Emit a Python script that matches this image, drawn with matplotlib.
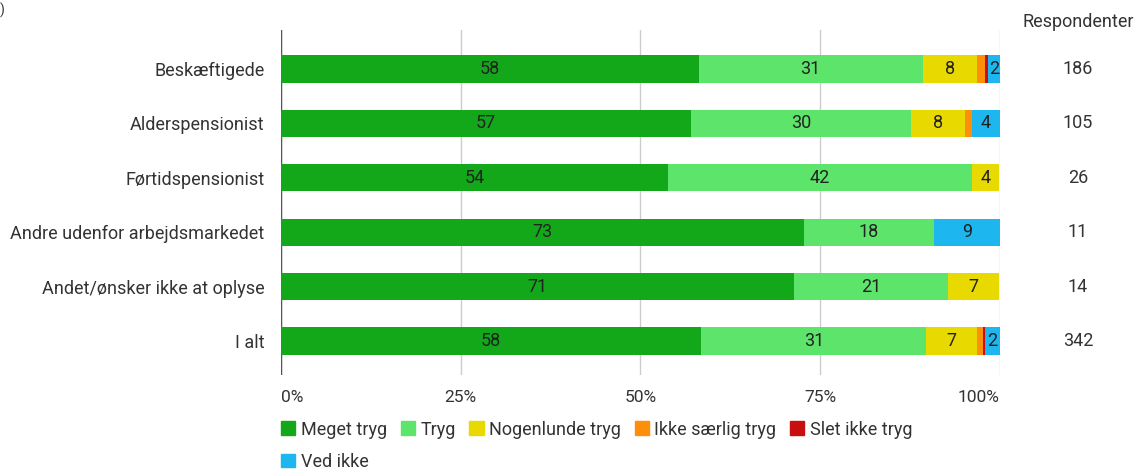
import matplotlib
matplotlib.use("Agg")
import matplotlib.pyplot as plt
from matplotlib.patches import Patch
import numpy as np

plt.rcParams['font.family'] = ['Roboto', 'DejaVu Sans']

categories = ["Beskæftigede", "Alderspensionist", "Førtidspensionist",
              "Andre udenfor arbejdsmarkedet", "Andet/ønsker ikke at oplyse", "I alt"]
respondents = [186, 105, 26, 11, 14, 342]

series_names = ["Meget tryg", "Tryg", "Nogenlunde tryg", "Ikke særlig tryg",
                "Slet ikke tryg", "Ved ikke"]
meget_tryg = [58.1, 57.1, 53.8, 72.7, 71.4, 58.5]
tryg = [31.2, 30.5, 42.3, 18.2, 21.4, 31.3]
nogenlunde = [7.5, 7.6, 3.8, 0.0, 7.1, 7.0]
ikke_saerlig = [1.1, 1.0, 0.0, 0.0, 0.0, 0.9]
slet_ikke = [0.5, 0.0, 0.0, 0.0, 0.0, 0.3]
ved_ikke = [1.6, 3.8, 0.0, 9.1, 0.0, 2.0]

colors = ["#12a81a", "#5de46a", "#e8d900", "#ff8e0a", "#c80f0f", "#1eb6ee"]
ticks = [0, 25, 50, 75, 100]
tick_labels = ["0%", "25%", "50%", "75%", "100%"]

series = [meget_tryg, tryg, nogenlunde, ikke_saerlig, slet_ikke, ved_ikke]

fig = plt.figure(figsize=(11.47, 4.70), dpi=100)
ax = fig.add_axes([0.245, 0.202, 0.6266, 0.734])

y = np.arange(len(categories))
left = np.zeros(len(categories))
for name, vals, col in zip(series_names, series, colors):
    vals = np.array(vals)
    ax.barh(y, vals, left=left, height=0.5, color=col, label=name, zorder=3)
    for i, v in enumerate(vals):
        if v >= 1.5:
            ax.text(left[i] + v / 2, y[i], f"{v:.0f}", ha="center", va="center",
                    fontsize=13, color="#222222", zorder=4)
    left += vals

ax.set_xlim(0, 100)
ax.set_ylim(5.625, -0.717)
ax.set_yticks(y)
ax.set_yticklabels(categories, fontsize=13, color="#333333")
ax.set_xticks(ticks)
ax.set_xticklabels(tick_labels, fontsize=12.5, color="#333333")
xl = ax.get_xticklabels()
xl[0].set_ha("left")
xl[-1].set_ha("right")
ax.tick_params(axis="both", length=0)
ax.tick_params(axis="x", pad=11)
ax.tick_params(axis="y", pad=12)
for s in ax.spines.values():
    s.set_visible(False)
ax.grid(axis="x", color="#cccccc", linewidth=1, zorder=0)
ax.axvline(0, color="#555555", linewidth=1, zorder=2)

# Respondenter column
ax.text(110.9, -0.86, "Respondenter", ha="center", va="center", fontsize=13,
        color="#333333", clip_on=False)
for i, n in enumerate(respondents):
    ax.text(110.9, y[i], str(n), ha="center", va="center", fontsize=13,
            color="#333333", clip_on=False)

# legend, ordered so "Ved ikke" wraps to the second row
order = [0, 5, 1, 2, 3, 4]
handles = [Patch(facecolor=colors[k], edgecolor=colors[k], label=series_names[k]) for k in order]
fig.legend(handles=handles, ncol=5, loc="upper left", bbox_to_anchor=(0.245, 0.105),
           frameon=False, fontsize=13, handlelength=0.8, handleheight=0.8,
           handletextpad=0.3, columnspacing=0.75, labelspacing=0.78,
           labelcolor="#333333", borderpad=0, borderaxespad=0)

fig.text(0.0, 0.995, ")", ha="left", va="top", fontsize=10, color="#333333")

fig.savefig("out.png", dpi=100)
